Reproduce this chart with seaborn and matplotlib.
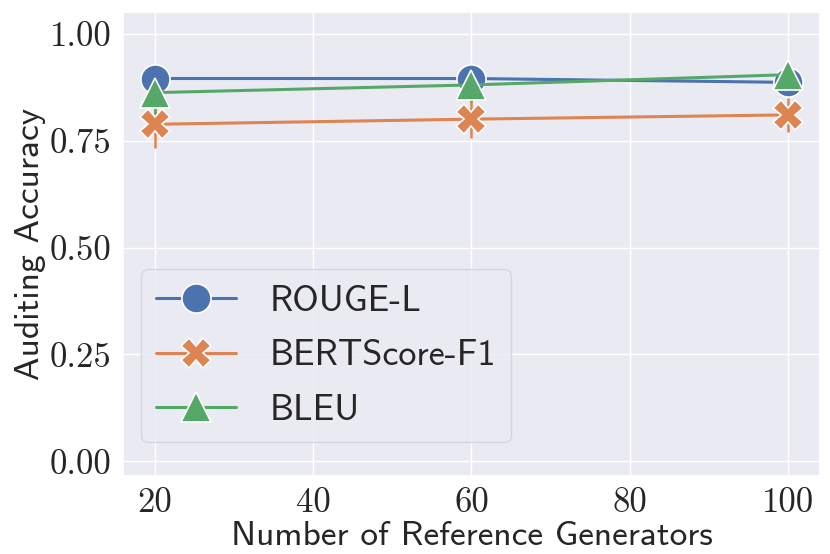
import numpy as np
import pandas as pd
import seaborn as sns
import matplotlib.pyplot as plt
from matplotlib.ticker import FuncFormatter

# Data
generators = [20, 60, 100]
rouge_l = [0.895, 0.895, 0.886]
bertscore = [0.788, 0.800, 0.810]
bleu = [0.862, 0.880, 0.904]
rouge_err = [0.01, 0.01, 0.01]
bert_err = [0.056, 0.045, 0.040]
bleu_err = [0.05, 0.04, 0.03]

metrics = ['ROUGE-L', 'BERTScore-F1', 'BLEU']
df = pd.DataFrame({
    'Number of Reference Generators': generators * 3,
    'Auditing Accuracy': rouge_l + bertscore + bleu,
    'err': rouge_err + bert_err + bleu_err,
    'Metric': [m for m in metrics for _ in generators],
})

sns.set_theme(style='darkgrid')
plt.rcParams['font.family'] = 'cmss10'
plt.rcParams['axes.unicode_minus'] = False
plt.rcParams['axes.formatter.use_mathtext'] = False

palette = sns.color_palette('deep', 3)
fig, ax = plt.subplots(figsize=(8.3, 5.54), dpi=100)

# error bars first, so the markers sit on top
for i, m in enumerate(metrics):
    sub = df[df['Metric'] == m]
    ax.vlines(sub['Number of Reference Generators'],
              sub['Auditing Accuracy'] - sub['err'],
              sub['Auditing Accuracy'] + sub['err'],
              color=palette[i], lw=1.8, zorder=2)

g = sns.lineplot(data=df, x='Number of Reference Generators', y='Auditing Accuracy',
                 hue='Metric', style='Metric', markers=['o', 'X', '^'], dashes=False,
                 palette=palette, markersize=21, markeredgecolor='white',
                 markeredgewidth=1.2, lw=2.2, ax=ax, zorder=3)

ax.set_ylim(-0.035, 1.05)
ax.set_xticks([20, 40, 60, 80, 100])
ax.set_yticks([0.0, 0.25, 0.5, 0.75, 1.0])
ax.yaxis.set_major_formatter(FuncFormatter(lambda v, p: f'{v:.2f}'))
for lab in ax.get_xticklabels() + ax.get_yticklabels():
    lab.set_fontfamily('cmr10')
    lab.set_fontsize(25)
ax.tick_params(axis='both', pad=2)
ax.set_xlabel('Number of Reference Generators', fontsize=25.5, labelpad=1)
ax.set_ylabel('Auditing Accuracy', fontsize=25.5, labelpad=3)

leg = ax.legend(loc='lower left', fontsize=26, markerscale=1.0, borderpad=0.42,
                handlelength=2.2, handletextpad=0.95, labelspacing=0.6,
                bbox_to_anchor=(0.0, 0.035))
leg.get_frame().set_edgecolor('#d0d0d8')

plt.subplots_adjust(left=0.148, right=0.988, top=0.978, bottom=0.14)
plt.savefig('out.png', dpi=100)
